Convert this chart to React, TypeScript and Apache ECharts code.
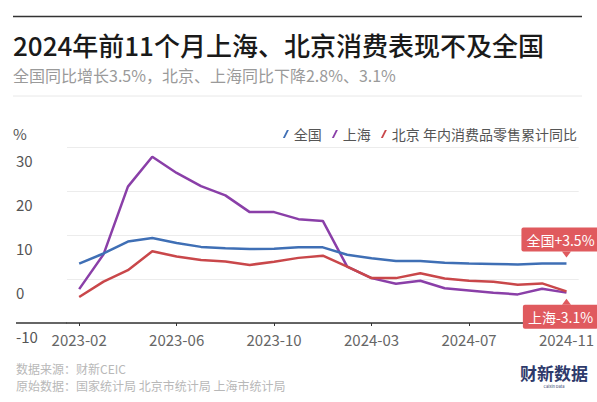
import { useEffect, useRef } from 'react';
import * as echarts from 'echarts';

const categories = [
  '2023-02', '2023-03', '2023-04', '2023-05', '2023-06', '2023-07', '2023-08', '2023-09', '2023-10', '2023-11', '2023-12',
  '2024-02', '2024-03', '2024-04', '2024-05', '2024-06', '2024-07', '2024-08', '2024-09', '2024-10', '2024-11',
];
const national = [3.5, 5.8, 8.5, 9.3, 8.2, 7.3, 7.0, 6.8, 6.9, 7.2, 7.2, 5.5, 4.7, 4.1, 4.1, 3.7, 3.5, 3.4, 3.3, 3.5, 3.5];
const shanghai = [-2.3, 5.6, 21.0, 27.8, 24.1, 21.1, 19.0, 15.2, 15.2, 13.6, 13.2, 2.8, 0.2, -1.1, -0.4, -2.1, -2.6, -3.1, -3.5, -2.2, -3.1];
const beijing = [-4.1, -0.6, 2.0, 6.3, 5.1, 4.3, 4.0, 3.2, 3.9, 4.8, 5.3, 2.8, 0.2, 0.2, 1.3, 0.1, -0.4, -0.6, -1.3, -1.0, -2.8];
const yTicks = { min: -10, max: 30, interval: 10 };

const FONT = '"Noto Sans CJK SC", "Noto Sans", sans-serif';
const BLUE = '#3f6fb5';
const PURPLE = '#8a3fa8';
const RED = '#c9474a';
const TAG = '#e05a5e';

function endMark(values: number[], text: string, above: boolean) {
  const last = values.length - 1;
  return {
    silent: true,
    data: [
      {
        coord: [last, values[last]],
        symbol: 'triangle',
        symbolSize: [9, 6],
        symbolRotate: above ? 180 : 0,
        symbolOffset: [0, above ? -9 : 9],
        itemStyle: { color: TAG },
        label: {
          show: true,
          position: above ? 'top' : 'bottom',
          distance: 0,
          offset: [-6, 0],
          formatter: text,
          color: '#fff',
          fontSize: 14,
          lineHeight: 16,
          fontFamily: FONT,
          backgroundColor: TAG,
          padding: [4, 5],
          borderRadius: 2,
        },
      },
    ],
  };
}

export default function App() {
  const chartRef = useRef<HTMLDivElement | null>(null);

  useEffect(() => {
    if (!chartRef.current) {
      return;
    }
    const chart = echarts.init(chartRef.current, null, { renderer: 'svg' });
    const lastN = national[national.length - 1];
    const lastS = shanghai[shanghai.length - 1];
    chart.setOption({
      animation: false,
      backgroundColor: '#fff',
      textStyle: { fontFamily: FONT },
      graphic: [
        { type: 'line', shape: { x1: 13, y1: 16.5, x2: 582, y2: 16.5 }, style: { stroke: '#333', lineWidth: 1.5 } },
        {
          type: 'text', x: 13, y: 44,
          style: { text: '2024年前11个月上海、北京消费表现不及全国', fontSize: 26, fontWeight: 500, fill: '#1a1a1a', fontFamily: FONT, verticalAlign: 'middle' },
        },
        {
          type: 'text', x: 13, y: 75,
          style: { text: '全国同比增长3.5%，北京、上海同比下降2.8%、3.1%', fontSize: 16, fill: '#9a9a9a', fontFamily: FONT, verticalAlign: 'middle' },
        },
        { type: 'line', shape: { x1: 13, y1: 96, x2: 582, y2: 96 }, style: { stroke: '#e8e8e8', lineWidth: 1 } },
        { type: 'text', x: 13, y: 133, style: { text: '%', fontSize: 15, fill: '#555', fontFamily: FONT, verticalAlign: 'middle' } },
        { type: 'line', shape: { x1: 16, y1: 323, x2: 67, y2: 323 }, style: { stroke: '#333', lineWidth: 1.5 } },
        { type: 'text', x: 16, y: 368, style: { text: '数据来源：财新CEIC', fontSize: 12, fill: '#b8b8b8', fontFamily: FONT, verticalAlign: 'middle' } },
        { type: 'text', x: 16, y: 385, style: { text: '原始数据：国家统计局 北京市统计局 上海市统计局', fontSize: 12, fill: '#b8b8b8', fontFamily: FONT, verticalAlign: 'middle' } },
        { type: 'text', x: 554, y: 372, style: { text: '财新数据', fontSize: 17, fontWeight: 'bold', fill: '#2e3a6b', fontFamily: FONT, align: 'center', verticalAlign: 'middle' } },
        { type: 'text', x: 554, y: 386, style: { text: 'Caixin Data', fontSize: 4, fill: '#2e3a6b', fontFamily: FONT, align: 'center', verticalAlign: 'middle' } },
      ],
      legend: {
        right: 15,
        top: 122,
        itemWidth: 6,
        itemHeight: 12,
        itemGap: 10,
        icon: 'path://M6,0 L9,0 L3,12 L0,12 Z',
        textStyle: { fontSize: 14, color: '#555', fontFamily: FONT },
        formatter: (name: string) => (name === '北京' ? '北京 年内消费品零售累计同比' : name),
        data: ['全国', '上海', '北京'],
      },
      grid: { left: 67, right: 16, top: 147, bottom: 79 },
      xAxis: {
        type: 'category',
        data: categories,
        boundaryGap: true,
        axisLine: { onZero: false, lineStyle: { color: '#333', width: 1.5 } },
        axisTick: { show: true, interval: 3, alignWithLabel: true, length: 3, lineStyle: { color: '#333' } },
        axisLabel: { interval: 3, fontSize: 15, color: '#666', margin: 9, fontFamily: FONT },
      },
      yAxis: {
        type: 'value',
        min: yTicks.min,
        max: yTicks.max,
        interval: yTicks.interval,
        axisLine: { show: false },
        axisTick: { show: false },
        axisLabel: { fontSize: 15, color: '#555', align: 'left', margin: 51, verticalAlign: 'top', padding: [6, 0, 0, 0], fontFamily: FONT },
        splitLine: { lineStyle: { color: '#ececec', width: 1 } },
      },
      series: [
        {
          name: '全国', type: 'line', data: national, symbol: 'none', color: BLUE,
          lineStyle: { width: 2.5, color: BLUE }, z: 3,
          markPoint: endMark(national, `全国+${lastN}%`, true),
        },
        {
          name: '上海', type: 'line', data: shanghai, symbol: 'none', color: PURPLE,
          lineStyle: { width: 2.5, color: PURPLE }, z: 2,
          markPoint: endMark(shanghai, `上海${lastS}%`, false),
        },
        {
          name: '北京', type: 'line', data: beijing, symbol: 'none', color: RED,
          lineStyle: { width: 2.5, color: RED }, z: 2,
        },
      ],
    });
    return () => {
      chart.dispose();
    };
  }, []);

  return <div ref={chartRef} style={{ position: 'fixed', left: 0, top: 0, width: 597, height: 402 }} />;
}
